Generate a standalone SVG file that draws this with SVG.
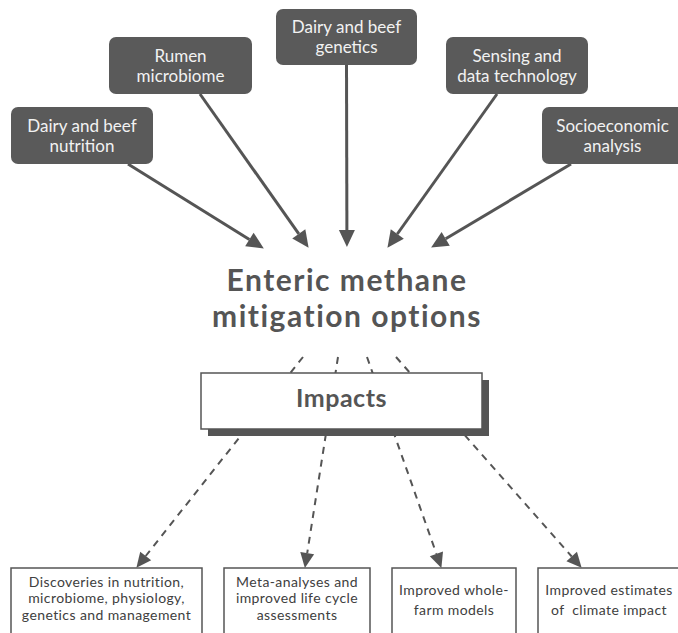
<svg xmlns="http://www.w3.org/2000/svg" width="678" height="633" viewBox="0 0 678 633">
<style>
.src rect{fill:#5a5a5a;}
.src text{fill:#f2f2f2;font-family:Lato,"Open Sans",sans-serif;font-size:17px;text-anchor:middle;}
.out rect{fill:#fff;stroke:#555;stroke-width:1.5;}
.out text{fill:#404040;font-family:Lato,"Open Sans",sans-serif;font-size:14px;letter-spacing:0.4px;text-anchor:middle;white-space:pre;}
.solid{stroke:#555;stroke-width:3;fill:none;marker-end:url(#ah);}
.dash{stroke:#555;stroke-width:2;fill:none;stroke-dasharray:7 6;marker-end:url(#ahd);}
.title{fill:#555;font-family:Lato,"Open Sans",sans-serif;font-weight:bold;text-anchor:middle;}
</style>
<defs>
<marker id="ah" markerUnits="userSpaceOnUse" markerWidth="16" markerHeight="16" refX="0" refY="8" orient="auto" overflow="visible">
<path d="M0,0 L17,8 L0,16 z" fill="#555"/>
</marker>
<marker id="ahd" markerUnits="userSpaceOnUse" markerWidth="14" markerHeight="14" refX="0" refY="7" orient="auto" overflow="visible">
<path d="M0,0 L15,7 L0,14 z" fill="#555"/>
</marker>
</defs>
<rect width="678" height="633" fill="#fff"/>
<g id="connectors">
<line class="solid" x1="128" y1="164" x2="249.4" y2="239.5"/>
<line class="solid" x1="200" y1="94" x2="298.8" y2="233.9"/>
<line class="solid" x1="346.5" y1="64" x2="346.9" y2="230"/>
<line class="solid" x1="497" y1="94" x2="397.3" y2="234"/>
<line class="solid" x1="571" y1="164" x2="445.7" y2="238.8"/>
<line class="dash" x1="303" y1="357" x2="145.7" y2="556"/>
<line class="dash" x1="338" y1="357" x2="307.2" y2="553.2"/>
<line class="dash" x1="367" y1="357" x2="436.4" y2="553.8"/>
<line class="dash" x1="396" y1="357" x2="571.7" y2="556.5"/>
</g>
<g id="nutrition" class="src"><rect x="11" y="107" width="142" height="57" rx="7"/><text x="82" y="132">Dairy and beef</text><text x="82" y="152">nutrition</text></g>
<g id="rumen" class="src"><rect x="109" y="37" width="143" height="57" rx="7"/><text x="180.5" y="62">Rumen</text><text x="180.5" y="82">microbiome</text></g>
<g id="genetics" class="src"><rect x="276" y="9" width="141" height="56" rx="7"/><text x="346.5" y="33">Dairy and beef</text><text x="346.5" y="53">genetics</text></g>
<g id="sensing" class="src"><rect x="446" y="37" width="142" height="57" rx="7"/><text x="517" y="62">Sensing and</text><text x="517" y="82">data technology</text></g>
<g id="socio" class="src"><rect x="542" y="107" width="146" height="57" rx="7"/><text x="612.5" y="132">Socioeconomic</text><text x="612.5" y="152">analysis</text></g>
<g id="title"><text class="title" x="347" y="291" font-size="30" letter-spacing="1.5">Enteric methane</text><text class="title" x="347" y="327" font-size="30" letter-spacing="1.5">mitigation options</text></g>
<g id="impacts"><rect x="208" y="380" width="281" height="56" fill="#555"/><rect x="201" y="373" width="281" height="56" fill="#fff" stroke="#555" stroke-width="1.5"/><text class="title" x="341.5" y="407" font-size="25" letter-spacing="0.5">Impacts</text></g>
<g id="discoveries" class="out"><rect x="11" y="568" width="191" height="80"/><text x="106.5" y="586.5">Discoveries in nutrition,</text><text x="106.5" y="603">microbiome, physiology,</text><text x="106.5" y="619.5">genetics and management</text></g>
<g id="meta" class="out"><rect x="224" y="568" width="146" height="80"/><text x="297" y="586.5">Meta-analyses and</text><text x="297" y="603">improved life cycle</text><text x="297" y="619.5">assessments</text></g>
<g id="wholefarm" class="out"><rect x="392" y="568" width="124" height="80"/><text x="454" y="595">Improved whole-</text><text x="454" y="615">farm models</text></g>
<g id="estimates" class="out"><rect x="538" y="568" width="150" height="80"/><text x="609" y="595">Improved estimates</text><text x="609" y="615">of  climate impact</text></g>
</svg>
